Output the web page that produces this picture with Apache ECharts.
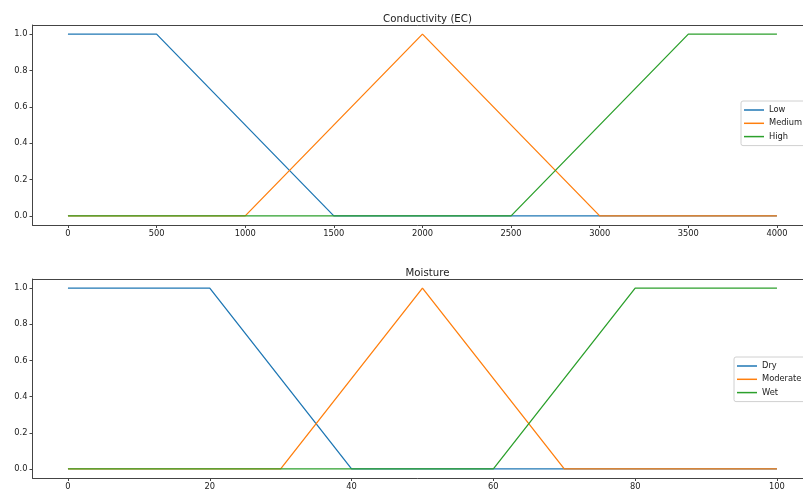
<!DOCTYPE html>
<html>
<head>
<meta charset="utf-8">
<script src="https://cdn.jsdelivr.net/npm/echarts@6/dist/echarts.min.js"></script>
<style>
  html, body { margin: 0; padding: 0; background: #fff; }
  #chart { width: 803px; height: 495px; }
</style>
</head>
<body>
<div id="chart"></div>
<script>
// conductivity (EC) membership breakpoints
const ecLowX = [0, 500, 1500, 4000];
const ecLowY = [1, 1, 0, 0];
const ecMedX = [0, 1000, 2000, 3000, 4000];
const ecMedY = [0, 0, 1, 0, 0];
const ecHighX = [0, 2500, 3500, 4000];
const ecHighY = [0, 0, 1, 1];

// moisture membership breakpoints
const dryX = [0, 20, 40, 100];
const dryY = [1, 1, 0, 0];
const modX = [0, 30, 50, 70, 100];
const modY = [0, 0, 1, 0, 0];
const wetX = [0, 60, 80, 100];
const wetY = [0, 0, 1, 1];

const ecTicks = [0, 500, 1000, 1500, 2000, 2500, 3000, 3500, 4000];
const moistTicks = [0, 20, 40, 60, 80, 100];
const yTicks = [0, 0.2, 0.4, 0.6, 0.8, 1.0];

const colors = ['#1f77b4', '#ff7f0e', '#2ca02c'];
const font = 'DejaVu Sans';
const spine = '#444';

const pairs = (xs, ys) => xs.map((x, i) => [x, ys[i]]);

// the figure is cut on the right, so the axis runs past the last tick
function xAxis(idx, min, max, ticks) {
  return {
    type: 'value', gridIndex: idx, min: min, max: max,
    axisLine: { onZero: false, lineStyle: { color: spine, width: 1 } },
    axisTick: { length: 3, lineStyle: { color: spine }, customValues: ticks },
    axisLabel: { customValues: ticks, margin: 5, fontSize: 8.3, color: '#222', fontFamily: font,
      formatter: v => String(v) },
    splitLine: { show: false }
  };
}
function topSpine(idx, min, max) {
  return {
    type: 'value', gridIndex: idx, min: min, max: max, position: 'top',
    axisLine: { onZero: false, lineStyle: { color: spine, width: 1 } },
    axisTick: { show: false }, axisLabel: { show: false }, splitLine: { show: false }
  };
}
function yAxis(idx) {
  return {
    type: 'value', gridIndex: idx, min: -0.05, max: 1.05,
    axisLine: { show: true, onZero: false, lineStyle: { color: spine, width: 1 } },
    axisTick: { show: true, length: 3, lineStyle: { color: spine }, customValues: yTicks },
    axisLabel: { customValues: yTicks, margin: 5, fontSize: 8.3, color: '#222', fontFamily: font,
      formatter: v => v.toFixed(1) },
    splitLine: { show: false }
  };
}
function line(name, data, c, idx) {
  return {
    name: name, type: 'line', data: data, xAxisIndex: idx, yAxisIndex: idx,
    showSymbol: false, color: c, lineStyle: { color: c, width: 1.3 }
  };
}
function legend(names, left, top) {
  return {
    data: names, orient: 'vertical', left: left, top: top,
    icon: 'rect', itemWidth: 20, itemHeight: 1.5, itemGap: 3.3,
    padding: [4, 40, 4, 3], backgroundColor: '#fff', borderColor: '#d0d0d0', borderWidth: 1, borderRadius: 2,
    textStyle: { fontSize: 8.3, color: '#222', fontFamily: font, lineHeight: 10, height: 10 }
  };
}

const chart = echarts.init(document.getElementById('chart'));
chart.setOption({
  animation: false,
  title: [
    { text: 'Conductivity (EC)', left: 422.5, top: 9, textAlign: 'center',
      textStyle: { fontSize: 10.2, fontWeight: 'normal', color: '#222', fontFamily: font } },
    { text: 'Moisture', left: 422.5, top: 263, textAlign: 'center',
      textStyle: { fontSize: 10.2, fontWeight: 'normal', color: '#222', fontFamily: font } }
  ],
  grid: [
    { left: 32.5, top: 25, right: 0, height: 200 },
    { left: 32.5, top: 279, right: 0, height: 199 }
  ],
  legend: [
    legend(['Low', 'Medium', 'High'], 741, 101),
    legend(['Dry', 'Moderate', 'Wet'], 734, 357)
  ],
  xAxis: [
    xAxis(0, -200, 4147, ecTicks), xAxis(1, -5, 103.67, moistTicks),
    topSpine(0, -200, 4147), topSpine(1, -5, 103.67)
  ],
  yAxis: [yAxis(0), yAxis(1)],
  series: [
    line('Low', pairs(ecLowX, ecLowY), colors[0], 0),
    line('Medium', pairs(ecMedX, ecMedY), colors[1], 0),
    line('High', pairs(ecHighX, ecHighY), colors[2], 0),
    line('Dry', pairs(dryX, dryY), colors[0], 1),
    line('Moderate', pairs(modX, modY), colors[1], 1),
    line('Wet', pairs(wetX, wetY), colors[2], 1)
  ]
});
</script>
</body>
</html>
